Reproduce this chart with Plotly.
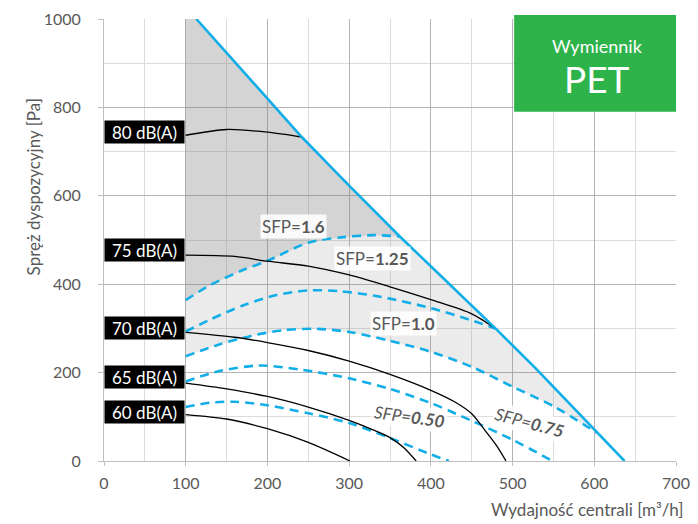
import plotly.graph_objects as go

# ---- data ----
max_x = [113, 242, 300, 362, 420, 479, 528, 603, 637]
max_y = [1000, 733, 623, 508, 405, 300, 210, 64, 0]

sfp16_x = [100, 130, 170, 200, 250, 290, 330, 362]
sfp16_y = [364, 398, 432, 453, 494, 506, 511, 508]
sfp125_x = [100, 130, 170, 210, 250, 290, 340, 400, 450, 479]
sfp125_y = [293, 320, 352, 375, 386, 384, 371, 346, 318, 300]
sfp10_x = [100, 140, 180, 220, 260, 300, 350, 400, 450, 500, 550, 603]
sfp10_y = [237, 263, 283, 296, 299, 292, 272, 247, 213, 168, 124, 64]
sfp075_x = [100, 140, 190, 240, 300, 350, 400, 450, 500, 549]
sfp075_y = [180, 203, 216, 207, 187, 163, 131, 91, 48, 0]
sfp050_x = [100, 130, 160, 200, 250, 300, 350, 400, 422]
sfp050_y = [122, 132, 134, 126, 108, 86, 52, 15, 0]

db80_x = [100, 150, 200, 242]
db80_y = [737, 750, 744, 733]
db75_x = [100, 160, 200, 250, 300, 350, 400, 450, 479]
db75_y = [466, 463, 452, 441, 421, 394, 365, 333, 300]
db70_x = [100, 160, 200, 250, 300, 350, 400, 430, 450, 466, 480, 492]
db70_y = [291, 280, 268, 250, 226, 196, 160, 133, 107, 70, 36, 0]
db65_x = [100, 150, 200, 250, 300, 330, 350, 367, 382]
db65_y = [176, 163, 146, 122, 92, 70, 53, 30, 0]
db60_x = [100, 150, 200, 250, 301]
db60_y = [105, 95, 73, 42, 0]

db_labels = ["80 dB(A)", "75 dB(A)", "70 dB(A)", "65 dB(A)", "60 dB(A)"]
db_label_y = [744, 477, 301, 190, 112]

sfp_labels = ["SFP=<b>1.6</b>", "SFP=<b>1.25</b>", "SFP=<b>1.0</b>",
              "<i>SFP=<b>0.50</b></i>", "<i>SFP=<b>0.75</b></i>"]
sfp_label_x = [232, 328, 366, 374, 521]
sfp_label_y = [531, 458, 310, 100, 86]
sfp_label_angle = [0, 0, 0, 8, 15]

BLUE = "#12aee8"
GREY_TXT = "#595959"
FONT = "Lato"

fig = go.Figure()

# dark grey region: above SFP 1.6 up to max curve
i16 = max_x.index(362)
dark_x = [100] + max_x[:i16 + 1] + sfp16_x[::-1]
dark_y = [1000] + max_y[:i16 + 1] + sfp16_y[::-1]
fig.add_trace(go.Scatter(x=dark_x, y=dark_y, fill="toself", mode="lines",
                         line=dict(width=0),
                         fillcolor="rgba(120,120,120,0.32)", hoverinfo="skip",
                         showlegend=False))
# light grey region: between SFP 1.6 and SFP 1.0
i10 = max_x.index(603)
light_x = sfp16_x + max_x[i16 + 1:i10 + 1] + sfp10_x[::-1]
light_y = sfp16_y + max_y[i16 + 1:i10 + 1] + sfp10_y[::-1]
fig.add_trace(go.Scatter(x=light_x, y=light_y, fill="toself", mode="lines",
                         line=dict(width=0),
                         fillcolor="rgba(120,120,120,0.15)", hoverinfo="skip",
                         showlegend=False))

for xs, ys in [(sfp16_x, sfp16_y), (sfp125_x, sfp125_y), (sfp10_x, sfp10_y),
               (sfp075_x, sfp075_y), (sfp050_x, sfp050_y)]:
    fig.add_trace(go.Scatter(x=xs, y=ys, mode="lines",
                             line=dict(color=BLUE, width=2.6, dash="9px,6px",
                                       shape="spline", smoothing=0.8),
                             hoverinfo="skip", showlegend=False))

for xs, ys in [(db80_x, db80_y), (db75_x, db75_y), (db70_x, db70_y),
               (db65_x, db65_y), (db60_x, db60_y)]:
    fig.add_trace(go.Scatter(x=xs, y=ys, mode="lines",
                             line=dict(color="black", width=1.3,
                                       shape="spline", smoothing=0.8),
                             hoverinfo="skip", showlegend=False))

fig.add_trace(go.Scatter(x=max_x, y=max_y, mode="lines",
                         line=dict(color=BLUE, width=2.6),
                         hoverinfo="skip", showlegend=False))

annotations = []
for t, yv in zip(db_labels, db_label_y):
    annotations.append(dict(x=49, y=yv, xref="x", yref="y", text=t,
                            showarrow=False, bgcolor="black",
                            font=dict(color="white", size=17, family=FONT),
                            borderpad=0, xanchor="center", yanchor="middle",
                            width=79, height=22))
for t, xv, yv, a in zip(sfp_labels, sfp_label_x, sfp_label_y, sfp_label_angle):
    annotations.append(dict(x=xv, y=yv, xref="x", yref="y", text=t,
                            showarrow=False, bgcolor="rgba(255,255,255,0.88)",
                            font=dict(color=GREY_TXT, size=17, family=FONT),
                            borderpad=1, textangle=a))

annotations += [
    dict(x=-0.145, y=0.825, xref="paper", yref="paper",
         text="Spręż dyspozycyjny [Pa]", textangle=-90, showarrow=False,
         font=dict(color=GREY_TXT, size=17, family=FONT)),
    dict(x=0.845, y=-0.138, xref="paper", yref="paper", xanchor="center",
         text="Wydajność centrali [m³/h]", showarrow=False,
         font=dict(color=GREY_TXT, size=17, family=FONT)),
    dict(x=0.8625, y=0.94, xref="paper", yref="paper", text="Wymiennik",
         xanchor="center", yanchor="middle",
         showarrow=False, font=dict(color="white", size=18, family=FONT)),
    dict(x=0.8625, y=0.865, xref="paper", yref="paper", text="PET",
         xanchor="center", yanchor="middle",
         showarrow=False, font=dict(color="white", size=37, family=FONT)),
]

fig.update_layout(
    width=690, height=516,
    margin=dict(l=96, r=22, t=11, b=63, autoexpand=False),
    paper_bgcolor="white", plot_bgcolor="white",
    font=dict(family=FONT, color=GREY_TXT, size=16),
    annotations=annotations,
    shapes=[dict(type="rect", xref="paper", yref="paper",
                 x0=0.717, x1=1.0, y0=0.79, y1=1.009,
                 fillcolor="#2eb34b", line=dict(width=0), layer="above")],
    xaxis=dict(range=[0, 700], dtick=100, tick0=0, showgrid=True,
               gridcolor="#b4b4b4", gridwidth=1, automargin=False,
               minor=dict(dtick=50, showgrid=True, gridcolor="#dcdcdc"),
               showline=True, linecolor="#bfbfbf", linewidth=1,
               ticks="outside", ticklen=4, tickcolor="#bfbfbf",
               zeroline=False, ticklabelstandoff=4,
               tickfont=dict(size=16, color=GREY_TXT)),
    yaxis=dict(range=[0, 1000], dtick=200, tick0=0, showgrid=True,
               gridcolor="#b4b4b4", gridwidth=1, automargin=False,
               minor=dict(dtick=100, showgrid=True, gridcolor="#dcdcdc"),
               showline=True, linecolor="#bfbfbf", linewidth=1,
               ticks="outside", ticklen=5, tickcolor="#bfbfbf",
               zeroline=False, ticklabelstandoff=14,
               tickfont=dict(size=16, color=GREY_TXT)),
)

fig.write_html("out.html")
